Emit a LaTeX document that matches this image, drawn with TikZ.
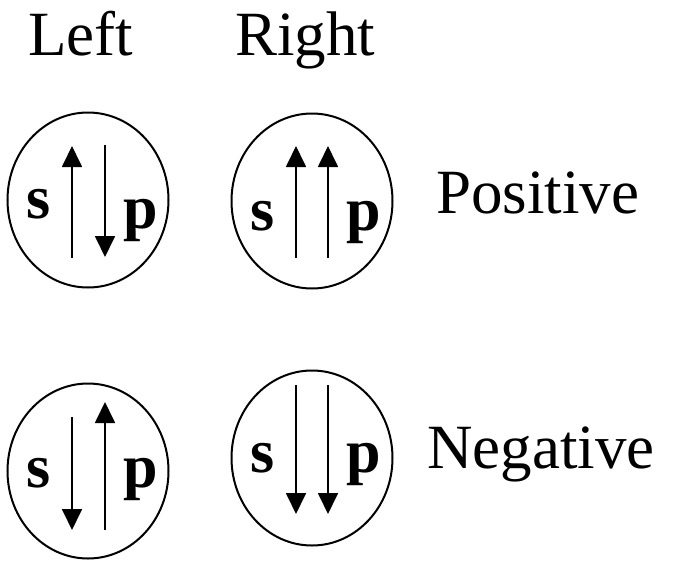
\documentclass[tikz,border=0pt]{standalone}
\usepackage{fontspec}
\setmainfont{Liberation Serif}
\usepackage{tikz}
\usetikzlibrary{arrows.meta, shapes.geometric}

\begin{document}
\begin{tikzpicture}[x=1pt, y=-1pt,
    orbit/.style={ellipse, draw, line width=2pt, inner sep=0pt,
                  minimum width=161pt, minimum height=175pt},
    spin/.style={line width=1.8pt, -{Triangle[length=21pt, width=20pt]}},
    lbl/.style={anchor=base west, inner sep=0pt, font=\fontsize{63}{63}\selectfont},
    orb/.style={anchor=base, inner sep=0pt, font=\fontsize{62}{62}\selectfont\bfseries}]
  \useasboundingbox (0,0) rectangle (675,560);

  % Column and row labels
  \node[lbl] (left) at (28,55) {Left};
  \node[lbl] (right) at (235,55) {Right};
  \node[lbl] (pos) at (436,213) {Positive};
  \node[lbl] (neg) at (427,468) {Negative};

  % Positive, left
  \node[orbit] (pl) at (88,200) {};
  \node[orb] (pls) at (39,218) {s};
  \node[orb] (plp) at (141,228) {p};
  \coordinate (pl1a) at (72,258); \coordinate (pl1b) at (72,146);
  \coordinate (pl2a) at (105,145); \coordinate (pl2b) at (105,257);
  \draw[spin] (pl1a) -- (pl1b); \draw[spin] (pl2a) -- (pl2b);

  % Positive, right
  \node[orbit] (pr) at (312,201) {};
  \node[orb] (prs) at (263,230) {s};
  \node[orb] (prp) at (364,230) {p};
  \coordinate (pr1a) at (296,258); \coordinate (pr1b) at (296,146);
  \coordinate (pr2a) at (328,258); \coordinate (pr2b) at (328,146);
  \draw[spin] (pr1a) -- (pr1b); \draw[spin] (pr2a) -- (pr2b);

  % Negative, left
  \node[orbit] (nl) at (88,471) {};
  \node[orb] (nls) at (39,487) {s};
  \node[orb] (nlp) at (141,487) {p};
  \coordinate (nl1a) at (72,417); \coordinate (nl1b) at (72,530);
  \coordinate (nl2a) at (105,530); \coordinate (nl2b) at (105,402);
  \draw[spin] (nl1a) -- (nl1b); \draw[spin] (nl2a) -- (nl2b);

  % Negative, right
  \node[orbit] (nr) at (312,458) {};
  \node[orb] (nrs) at (263,472) {s};
  \node[orb] (nrp) at (364,472) {p};
  \coordinate (nr1a) at (296,385); \coordinate (nr1b) at (296,514);
  \coordinate (nr2a) at (328,385); \coordinate (nr2b) at (328,514);
  \draw[spin] (nr1a) -- (nr1b); \draw[spin] (nr2a) -- (nr2b);
\end{tikzpicture}
\end{document}
